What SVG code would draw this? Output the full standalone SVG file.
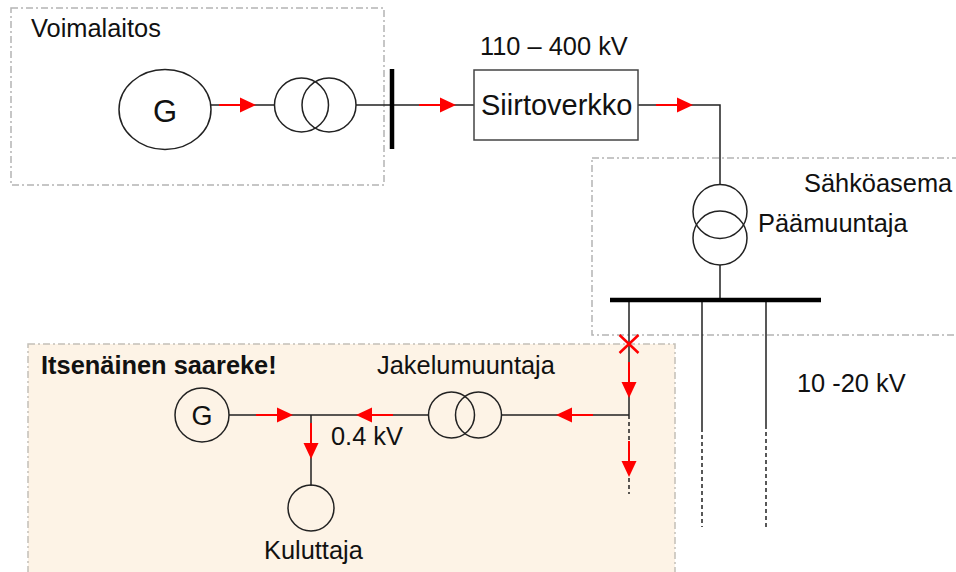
<svg xmlns="http://www.w3.org/2000/svg" width="956" height="572" viewBox="0 0 956 572">
<style>
text{font-family:"Liberation Sans",Arial,sans-serif;font-size:25.4px;fill:#111}
.region{fill:none;stroke:#b4b4b4;stroke-width:1.5;stroke-dasharray:7 3 2 3}
.sym{fill:none;stroke:#222;stroke-width:1.5}
.wire{fill:none;stroke:#222;stroke-width:1.5}
.bus{stroke:#000;stroke-width:4.5}
.dash{fill:none;stroke:#222;stroke-width:1.5;stroke-dasharray:4 3}
.flow{fill:none;stroke:#f00;stroke-width:2;marker-end:url(#a)}
.x{stroke:#f00;stroke-width:2.5}
</style>
<defs>
<marker id="a" markerUnits="userSpaceOnUse" markerWidth="16" markerHeight="16" refX="0" refY="8" orient="auto" overflow="visible"><path d="M0 0.5L16 8L0 15.5Z" fill="#f00"/></marker>
</defs>
<g id="island"><rect x="28" y="344" width="647" height="240" fill="#fdf3e6" stroke="#c4c0b8" stroke-width="1.5" stroke-dasharray="7 3 2 3"/><text x="41" y="374" style="font-weight:bold;font-size:25.4px">Itsenäinen saareke!</text></g>
<g id="voimalaitos"><rect class="region" x="11" y="8" width="373" height="177"/><text x="31" y="37">Voimalaitos</text></g>
<g id="sahkoasema"><rect class="region" x="592" y="158" width="370" height="177"/><text x="804" y="192">Sähköasema</text></g>
<g id="connectors">
<path class="wire" d="M211 105H275M356 105H474M638 105H720V185M720 265V300M629 300V415M702 300V428M766 300V425M229 415H429M501 415H629M311 415V486"/>
<path class="dash" d="M629 415V494M702 428V527M766 425V527"/>
<path class="bus" d="M392 69V149M610 300H821"/>
<path class="flow" d="M219 105H240"/>
<path class="flow" d="M419 105H440"/>
<path class="flow" d="M656 105H677"/>
<path class="flow" d="M256 415H277"/>
<path class="flow" d="M393 415H372"/>
<path class="flow" d="M593 415H572"/>
<path class="flow" d="M311 423V443"/>
<path class="flow" d="M629 362V382"/>
<path class="flow" d="M629 441V461"/>
<path class="x" d="M619.5 335L638.5 353M638.5 335L619.5 353"/>
</g>
<g id="generator-main"><ellipse class="sym" cx="165" cy="109.500" rx="46" ry="40"/><text x="165" y="122" text-anchor="middle" style="font-size:31px">G</text></g>
<g id="transformer-plant"><circle class="sym" cx="301.500" cy="105" r="27"/><circle class="sym" cx="329" cy="105" r="27"/></g>
<g id="siirtoverkko"><rect x="474" y="70" width="164" height="70" fill="#fff" stroke="#444" stroke-width="1.500"/><text x="481" y="115" style="font-size:29px">Siirtoverkko</text><text x="480" y="55">110 – 400 kV</text></g>
<g id="paamuuntaja"><circle class="sym" cx="720" cy="211.500" r="27"/><circle class="sym" cx="720" cy="238" r="27"/><text x="758" y="232">Päämuuntaja</text></g>
<g id="generator-island"><circle class="sym" cx="202" cy="415" r="27"/><text x="202" y="425" text-anchor="middle" style="font-size:27px">G</text></g>
<g id="jakelumuuntaja"><circle class="sym" cx="451.500" cy="415" r="23"/><circle class="sym" cx="478.500" cy="415" r="23"/><text x="377" y="374">Jakelumuuntaja</text></g>
<g id="kuluttaja"><circle class="sym" cx="311" cy="508" r="23"/><text x="264" y="559">Kuluttaja</text></g>
<g id="labels"><text x="331" y="445">0.4 kV</text><text x="797" y="392">10 -20 kV</text></g>
</svg>
